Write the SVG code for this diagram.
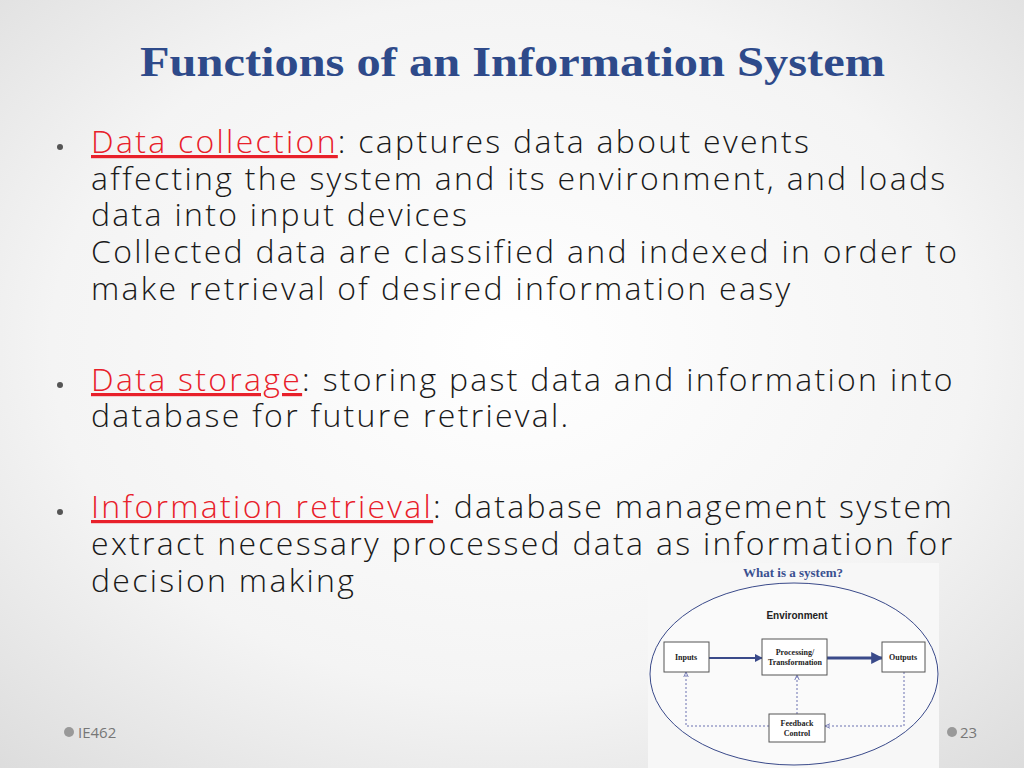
<svg xmlns="http://www.w3.org/2000/svg" width="1024" height="768" viewBox="0 0 1024 768">
<defs>
<radialGradient id="bg" cx="0.5" cy="0.45" r="0.75"><stop offset="0" stop-color="#ffffff"/><stop offset="0.6" stop-color="#f4f4f4"/><stop offset="1" stop-color="#dcdcdc"/></radialGradient>
<marker id="ah" viewBox="0 0 10 10" refX="9" refY="5" markerWidth="4" markerHeight="4" orient="auto"><path d="M0,0L10,5L0,10z" fill="#3a4a8a"/></marker>
<marker id="oh" viewBox="0 0 10 10" refX="9" refY="5" markerWidth="6" markerHeight="6" orient="auto"><path d="M0,1L9,5L0,9" fill="none" stroke="#6a70b0" stroke-width="1.5"/></marker>
<style>
.b{font-family:"Open Sans",sans-serif;font-weight:300;font-size:32px;letter-spacing:2.3px;fill:#1a1a1a}
.r{fill:#e8202a;text-decoration:underline}
.bx{fill:#fff;stroke:#555;stroke-width:1}
.s{font-family:"Liberation Serif",serif;font-size:8px;font-weight:bold;fill:#222;text-anchor:middle}
.d{fill:none;stroke:#6a70b0;stroke-width:1;stroke-dasharray:2 2}
</style>
</defs>
<rect width="1024" height="768" fill="url(#bg)"/>
<text x="140" y="76" textLength="745" lengthAdjust="spacingAndGlyphs" font-family="Liberation Serif,serif" font-weight="bold" font-size="42" fill="#2e4a8a">Functions of an Information System</text>
<g fill="#555"><circle cx="60" cy="147" r="3"/><circle cx="60" cy="385" r="3"/><circle cx="60" cy="512" r="3"/></g>
<g class="b">
<text x="91" y="153"><tspan class="r">Data collection</tspan>: captures data about events</text>
<text x="91" y="190">affecting the system and its environment, and loads</text>
<text x="91" y="226">data into input devices</text>
<text x="91" y="263">Collected data are classified and indexed in order to</text>
<text x="91" y="300">make retrieval of desired information easy</text>
<text x="91" y="391"><tspan class="r">Data storage</tspan>: storing past data and information into</text>
<text x="91" y="427">database for future retrieval.</text>
<text x="91" y="518"><tspan class="r">Information retrieval</tspan>: database management system</text>
<text x="91" y="555">extract necessary processed data as information for</text>
<text x="91" y="592">decision making</text>
</g>
<rect x="648" y="563" width="291" height="205" fill="#f7f7f7"/>
<text x="793" y="577" text-anchor="middle" font-family="Liberation Serif,serif" font-weight="bold" font-size="13" fill="#3a5090">What is a system?</text>
<ellipse cx="794" cy="674" rx="144" ry="91" fill="#fafafa" stroke="#3a4a8a" stroke-width="1"/>
<text x="797" y="619" text-anchor="middle" font-family="Liberation Sans,sans-serif" font-weight="bold" font-size="10" fill="#222">Environment</text>
<g id="connectors">
<line x1="709" y1="658" x2="762" y2="658" stroke="#3a4a8a" stroke-width="2" marker-end="url(#ah)"/>
<line x1="827" y1="658" x2="882" y2="658" stroke="#3a4a8a" stroke-width="3" marker-end="url(#ah)"/>
<polyline class="d" points="904,672 904,726 825,726" marker-end="url(#oh)"/>
<polyline class="d" points="769,726 686,726 686,672" marker-end="url(#oh)"/>
<line class="d" x1="797" y1="714" x2="797" y2="675" marker-end="url(#oh)"/>
</g>
<g id="inputs"><rect class="bx" x="664" y="642" width="45" height="30"/><text class="s" x="686" y="660">Inputs</text></g>
<g id="processing"><rect class="bx" x="762" y="639" width="65" height="36"/><text class="s" x="795" y="655">Processing/</text><text class="s" x="795" y="665">Transformation</text></g>
<g id="outputs"><rect class="bx" x="882" y="642" width="43" height="30"/><text class="s" x="903" y="660">Outputs</text></g>
<g id="feedback"><rect class="bx" x="769" y="714" width="56" height="28"/><text class="s" x="797" y="726">Feedback</text><text class="s" x="797" y="736">Control</text></g>
<circle cx="69" cy="732" r="5" fill="#999"/>
<text x="78" y="738" font-family="Open Sans,sans-serif" font-size="15" fill="#777">IE462</text>
<circle cx="952" cy="732" r="5" fill="#999"/>
<text x="960" y="738" font-family="Open Sans,sans-serif" font-size="15" fill="#777">23</text>
</svg>
